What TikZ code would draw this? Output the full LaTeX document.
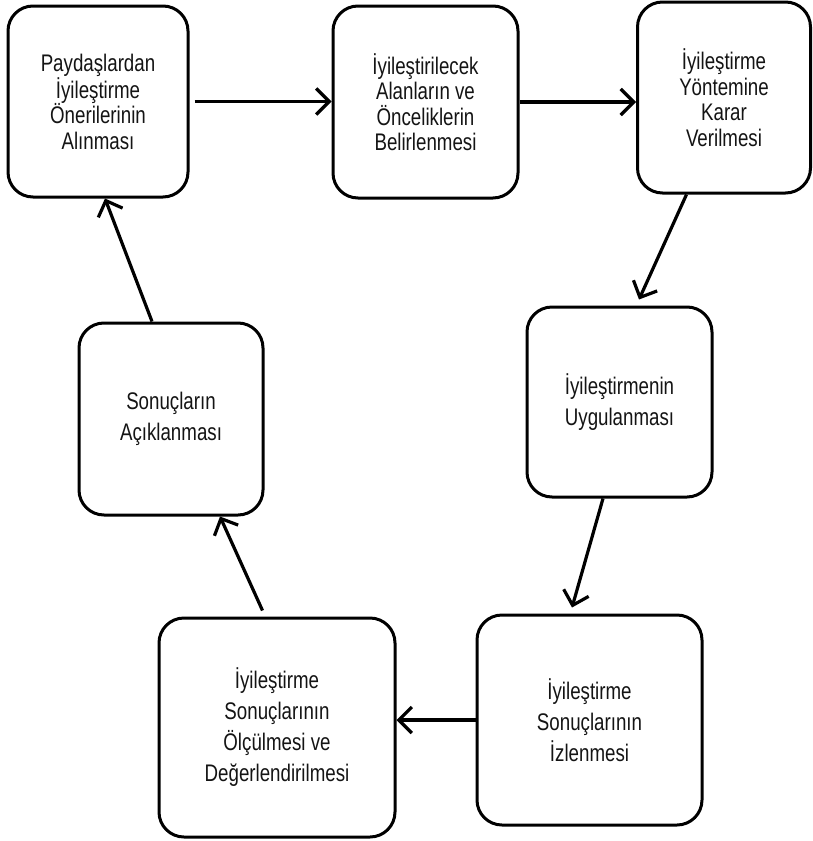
\documentclass[tikz,border=0pt]{standalone}
\usepackage{fontspec}
\setmainfont{Liberation Sans}[FakeStretch=0.78]
\usetikzlibrary{arrows.meta,calc}
\tikzset{
  stage/.style={draw=black, line width=3pt, rounded corners=25pt, align=center,
    inner sep=0pt, text=black!92},
  toprow/.style={stage, font=\fontsize{24}{25.5}\selectfont},
  lowrow/.style={stage, font=\fontsize{24}{31}\selectfont},
  flow/.style={line width=3.2pt, -{Straight Barb[length=13pt,width=26pt]}},
}
\begin{document}
\begin{tikzpicture}[x=1pt,y=-1pt]
\useasboundingbox (0,0) rectangle (813,841);
\node[toprow, minimum width=180pt, minimum height=191pt] (b1) at (98,101.5)
  {Paydaşlardan\\İyileştirme\\Önerilerinin\\Alınması};
\node[toprow, minimum width=185pt, minimum height=192pt] (b2) at (425.5,102)
  {İyileştirilecek\\Alanların ve\\Önceliklerin\\Belirlenmesi};
\node[toprow, minimum width=173pt, minimum height=191pt] (b3) at (724,97.5)
  {İyileştirme\\Yöntemine\\Karar\\Verilmesi};
\node[lowrow, minimum width=185pt, minimum height=190pt] (b4) at (619.5,402)
  {İyileştirmenin\\Uygulanması};
\node[lowrow, minimum width=225pt, minimum height=210pt] (b5) at (589.5,720)
  {İyileştirme\\Sonuçlarının\\İzlenmesi};
\node[lowrow, minimum width=236pt, minimum height=219pt] (b6) at (277,727.5)
  {İyileştirme\\Sonuçlarının\\Ölçülmesi ve\\Değerlendirilmesi};
\node[lowrow, minimum width=184pt, minimum height=192pt] (b7) at (171,419)
  {Sonuçların\\Açıklanması};

\draw[flow, shorten <=5pt] (b1.east) -- (b1.east -| b2.west);
\draw[flow] (b2.east) -- (b2.east -| b3.west);
\draw[flow] ([xshift=-37.5pt]b3.south) -- ([xshift=19.5pt,yshift=6pt]b4.north);
\draw[flow] ([xshift=-16.5pt]b4.south) -- ([xshift=-17.5pt,yshift=6pt]b5.north);
\draw[flow] (b5.west) -- (b5.west -| b6.east);
\draw[flow] ([xshift=-14.5pt,yshift=6pt]b6.north) -- ([xshift=49pt]b7.south);
\draw[flow] ([xshift=-19pt]b7.north) -- ([xshift=7pt]b1.south);
\end{tikzpicture}
\end{document}
